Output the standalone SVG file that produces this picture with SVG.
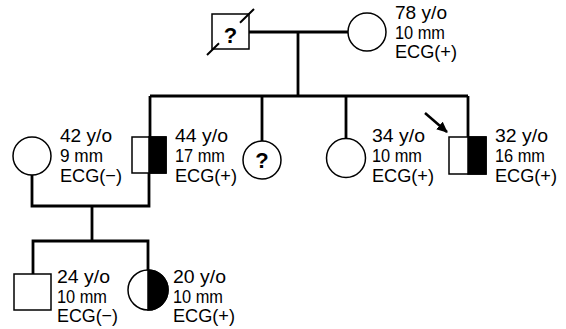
<svg xmlns="http://www.w3.org/2000/svg" width="566" height="329" viewBox="0 0 566 329">
<defs>
<style>
.ln{stroke:#000;stroke-width:2.8;fill:none}
.sh{stroke:#000;stroke-width:1.5;fill:#fff}
.bk{fill:#000;stroke:#000;stroke-width:1.5}
.t{font-family:"Liberation Sans",Arial,sans-serif;font-size:19px;fill:#000}
.q{font-family:"Liberation Sans",Arial,sans-serif;font-size:22px;font-weight:bold;fill:#000;text-anchor:middle}
</style>
<marker id="ah" markerWidth="11" markerHeight="10" refX="10" refY="5" orient="auto" markerUnits="userSpaceOnUse">
<path d="M0,0 L11,5 L0,10 Z" fill="#000"/>
</marker>
</defs>
<rect width="566" height="329" fill="#fff"/>
<g id="connectors">
<path class="ln" d="M249,32 H348"/>
<path class="ln" d="M298,32 V96"/>
<path class="ln" d="M150,96 H468"/>
<path class="ln" d="M150,96 V137"/>
<path class="ln" d="M262,96 V141"/>
<path class="ln" d="M346,96 V138"/>
<path class="ln" d="M468,96 V137"/>
<path class="ln" d="M32,175 V206 H149 V173"/>
<path class="ln" d="M92,206 V241"/>
<path class="ln" d="M33,274 V241 H148 V270"/>
<path d="M425,113 L447,132" stroke="#000" stroke-width="2.5" marker-end="url(#ah)"/>
</g>
<g id="grandfather">
<rect class="sh" x="212" y="14" width="37" height="35"/>
<text class="q" x="230.5" y="43">?</text>
<path d="M207,55 L219,43.3 M240,22.7 L254,9" stroke="#000" stroke-width="2"/>
</g>
<g id="grandmother">
<circle class="sh" cx="367" cy="32" r="19"/>
<text class="t" x="395" y="19" textLength="52" lengthAdjust="spacingAndGlyphs">78 y/o</text>
<text class="t" x="395" y="38.5" textLength="50" lengthAdjust="spacingAndGlyphs">10 mm</text>
<text class="t" x="395" y="58" textLength="62" lengthAdjust="spacingAndGlyphs">ECG(+)</text>
</g>
<g id="spouse">
<circle class="sh" cx="32" cy="156" r="19"/>
<text class="t" x="60" y="142" textLength="52" lengthAdjust="spacingAndGlyphs">42 y/o</text>
<text class="t" x="60" y="162" textLength="43" lengthAdjust="spacingAndGlyphs">9 mm</text>
<text class="t" x="60" y="181.5" textLength="62" lengthAdjust="spacingAndGlyphs">ECG(−)</text>
</g>
<g id="son44">
<rect class="sh" x="132" y="137" width="34" height="36"/>
<rect class="bk" x="149" y="137" width="17" height="36"/>
<text class="t" x="175" y="142" textLength="53" lengthAdjust="spacingAndGlyphs">44 y/o</text>
<text class="t" x="175" y="162" textLength="50" lengthAdjust="spacingAndGlyphs">17 mm</text>
<text class="t" x="175" y="181.5" textLength="62" lengthAdjust="spacingAndGlyphs">ECG(+)</text>
</g>
<g id="unknown">
<circle class="sh" cx="262" cy="160" r="19"/>
<text class="q" x="262" y="168">?</text>
</g>
<g id="daughter34">
<circle class="sh" cx="346" cy="158" r="19.5"/>
<text class="t" x="372" y="142" textLength="53" lengthAdjust="spacingAndGlyphs">34 y/o</text>
<text class="t" x="372" y="162" textLength="50" lengthAdjust="spacingAndGlyphs">10 mm</text>
<text class="t" x="372" y="181.5" textLength="62" lengthAdjust="spacingAndGlyphs">ECG(+)</text>
</g>
<g id="proband32">
<rect class="sh" x="449" y="137" width="37" height="37"/>
<rect class="bk" x="468" y="137" width="18" height="37"/>
<text class="t" x="495" y="142" textLength="53" lengthAdjust="spacingAndGlyphs">32 y/o</text>
<text class="t" x="495" y="162" textLength="50" lengthAdjust="spacingAndGlyphs">16 mm</text>
<text class="t" x="495" y="181.5" textLength="62" lengthAdjust="spacingAndGlyphs">ECG(+)</text>
</g>
<g id="grandson24">
<rect class="sh" x="14" y="274" width="37" height="36"/>
<text class="t" x="57" y="283" textLength="53" lengthAdjust="spacingAndGlyphs">24 y/o</text>
<text class="t" x="57" y="302.5" textLength="50" lengthAdjust="spacingAndGlyphs">10 mm</text>
<text class="t" x="57" y="322" textLength="61" lengthAdjust="spacingAndGlyphs">ECG(−)</text>
</g>
<g id="granddaughter20">
<circle class="sh" cx="148" cy="290" r="20"/>
<path class="bk" d="M148,270 A20,20 0 0 1 148,310 Z"/>
<text class="t" x="173" y="283" textLength="53" lengthAdjust="spacingAndGlyphs">20 y/o</text>
<text class="t" x="173" y="302.5" textLength="50" lengthAdjust="spacingAndGlyphs">10 mm</text>
<text class="t" x="173" y="322" textLength="62" lengthAdjust="spacingAndGlyphs">ECG(+)</text>
</g>
</svg>
